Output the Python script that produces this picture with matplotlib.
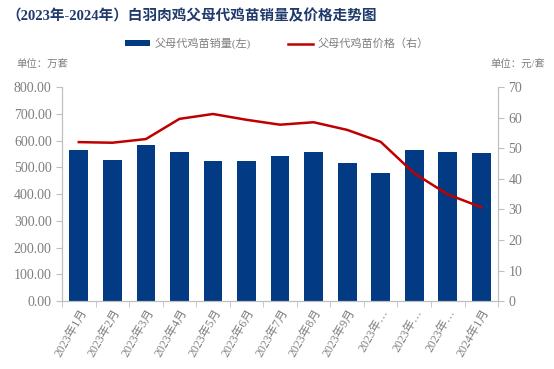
import matplotlib.pyplot as plt
import numpy as np

plt.rcParams['font.family'] = ['Liberation Serif', 'Noto Sans CJK SC']

months = ["2023年1月", "2023年2月", "2023年3月", "2023年4月", "2023年5月", "2023年6月",
          "2023年7月", "2023年8月", "2023年9月", "2023年…", "2023年…", "2023年…", "2024年1月"]
sales = [565, 527, 583, 557, 524, 524, 542, 557, 516, 479, 565, 557, 553]
price = [52.0, 51.8, 53.0, 59.6, 61.2, 59.3, 57.7, 58.5, 56.0, 52.1, 41.8, 34.9, 30.7]

navy = '#023A83'
red = '#C00000'
gray = '#BFBFBF'
tcol = '#7F7F7F'

fig = plt.figure(figsize=(5.54, 3.69), dpi=100)
ax = fig.add_axes([0.112, 0.184, 0.787, 0.58])
ax2 = ax.twinx()

x = np.arange(len(months))
ax.bar(x, sales, width=0.56, color=navy, label='父母代鸡苗销量(左)', zorder=2)
ax2.plot(x, price, color=red, lw=1.8, label='父母代鸡苗价格（右）')

ax.set_xlim(-0.5, len(months) - 0.5)
ax.set_ylim(0, 800)
ax.set_yticks(np.arange(0, 801, 100))
ax.set_yticklabels([f"{v:.2f}" for v in np.arange(0, 801, 100)])
ax2.set_ylim(0, 70)
ax2.set_yticks(np.arange(0, 71, 10))

ax.set_xticks(x)
ax.set_xticklabels(months, rotation=60, ha='right', rotation_mode='anchor', fontsize=8.5, color=tcol)
ax.set_xticks(np.arange(-0.5, len(months), 1), minor=True)
ax.tick_params(axis='x', which='major', length=0, pad=4)
ax.tick_params(axis='x', which='minor', length=4, color=gray)

for a in (ax, ax2):
    for s in a.spines.values():
        s.set_color(gray)
    a.spines['top'].set_visible(False)
    a.tick_params(axis='y', colors=tcol, labelsize=10, length=4)
    a.tick_params(axis='y', color=gray)

h1, l1 = ax.get_legend_handles_labels()
h2, l2 = ax2.get_legend_handles_labels()
fig.legend(h1 + h2, l1 + l2, loc='center', bbox_to_anchor=(0.5, 0.882), ncol=2,
           frameon=False, fontsize=8, labelcolor=tcol, handlelength=2.3,
           handleheight=0.5, handletextpad=0.4, columnspacing=3.3)

fig.text(0.012, 0.955, '（2023年-2024年）白羽肉鸡父母代鸡苗销量及价格走势图',
         fontsize=10.5, fontweight='bold', color='#1F3A6B', va='center')
fig.text(0.03, 0.828, '单位：万套', fontsize=7.5, color=tcol, va='center')
fig.text(0.985, 0.823, '单位：元/套', fontsize=7.5, color=tcol, va='center', ha='right')

fig.savefig('out.png', dpi=100)
